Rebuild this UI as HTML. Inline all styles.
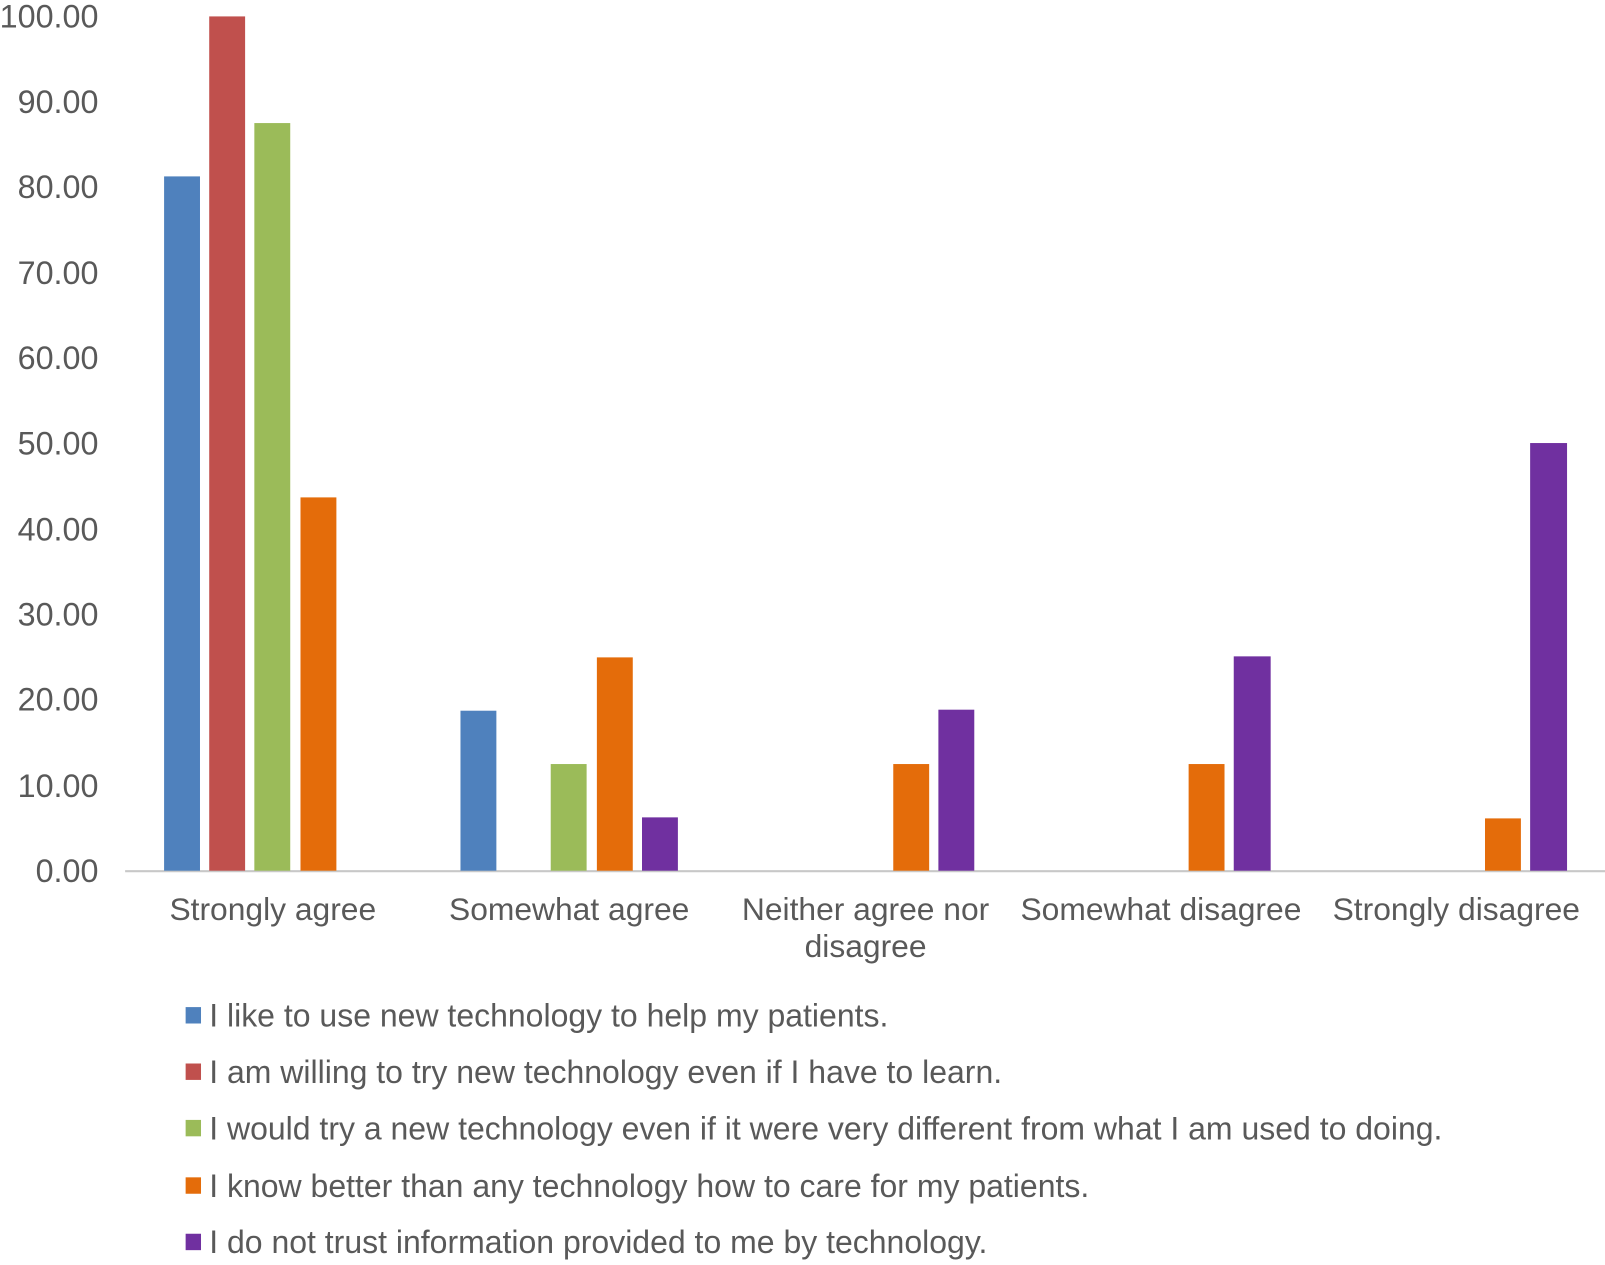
<!DOCTYPE html>
<html><head><meta charset="utf-8"><style>body{margin:0;background:#fff}</style></head><body>
<svg width="1605" height="1260" viewBox="0 0 1565 1228.6" xmlns="http://www.w3.org/2000/svg" font-family="Liberation Sans, sans-serif" fill="#595959">
<g font-size="31.5" text-anchor="end">
<text x="96" y="27">100.00</text>
<text x="96" y="110">90.00</text>
<text x="96" y="193">80.00</text>
<text x="96" y="277">70.00</text>
<text x="96" y="360">60.00</text>
<text x="96" y="443">50.00</text>
<text x="96" y="527">40.00</text>
<text x="96" y="610">30.00</text>
<text x="96" y="693">20.00</text>
<text x="96" y="777">10.00</text>
<text x="96" y="860">0.00</text>
</g>
<line x1="122" y1="849.5" x2="1565" y2="849.5" stroke="#c8c8c8" stroke-width="2"/>
<rect x="160" y="172" width="35" height="677" fill="#4F81BD"/>
<rect x="204" y="16" width="35" height="833" fill="#C0504D"/>
<rect x="248" y="120" width="35" height="729" fill="#9BBB59"/>
<rect x="293" y="485" width="35" height="364" fill="#E46C0A"/>
<rect x="449" y="693" width="35" height="156" fill="#4F81BD"/>
<rect x="537" y="745" width="35" height="104" fill="#9BBB59"/>
<rect x="582" y="641" width="35" height="208" fill="#E46C0A"/>
<rect x="626" y="797" width="35" height="52" fill="#7030A0"/>
<rect x="871" y="745" width="35" height="104" fill="#E46C0A"/>
<rect x="915" y="692" width="35" height="157" fill="#7030A0"/>
<rect x="1159" y="745" width="35" height="104" fill="#E46C0A"/>
<rect x="1203" y="640" width="36" height="209" fill="#7030A0"/>
<rect x="1448" y="798" width="35" height="51" fill="#E46C0A"/>
<rect x="1492" y="432" width="36" height="417" fill="#7030A0"/>
<g font-size="31" text-anchor="middle">
<text x="266" y="897">Strongly agree</text>
<text x="555" y="897">Somewhat agree</text>
<text x="844" y="897">Neither agree nor</text>
<text x="844" y="933">disagree</text>
<text x="1132" y="897">Somewhat disagree</text>
<text x="1420" y="897">Strongly disagree</text>
</g>
<g font-size="31.2">
<rect x="181" y="982" width="15" height="16" fill="#4F81BD"/><text x="204" y="1001">I like to use new technology to help my patients.</text>
<rect x="181" y="1037" width="15" height="16" fill="#C0504D"/><text x="204" y="1056">I am willing to try new technology even if I have to learn.</text>
<rect x="181" y="1092" width="15" height="16" fill="#9BBB59"/><text x="204" y="1111">I would try a new technology even if it were very different from what I am used to doing.</text>
<rect x="181" y="1148" width="15" height="16" fill="#E46C0A"/><text x="204" y="1167">I know better than any technology how to care for my patients.</text>
<rect x="181" y="1203" width="15" height="16" fill="#7030A0"/><text x="204" y="1222">I do not trust information provided to me by technology.</text>
</g>
</svg>
</body></html>
